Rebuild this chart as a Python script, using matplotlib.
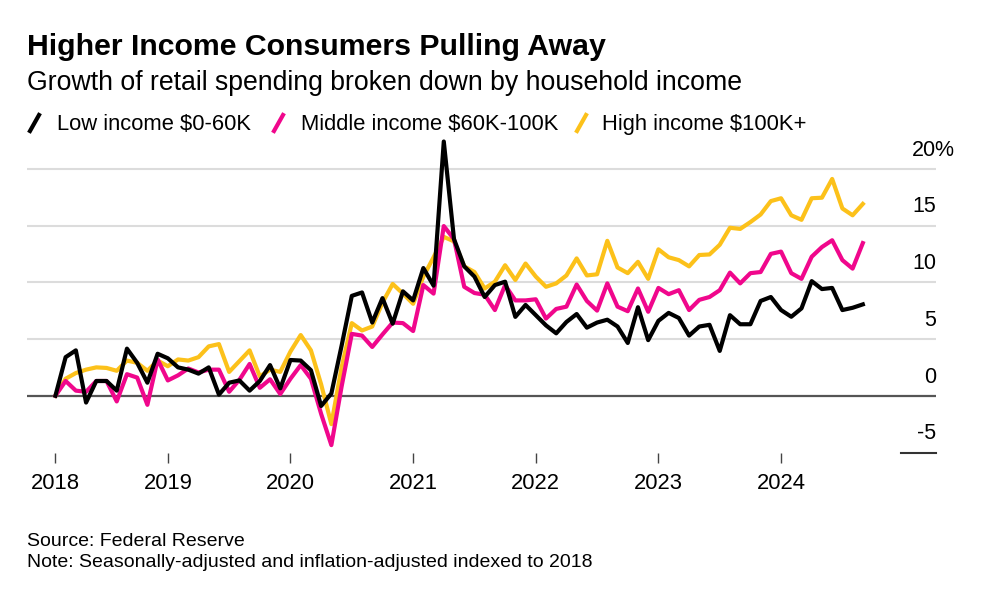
import numpy as np
import matplotlib.pyplot as plt
from matplotlib.lines import Line2D

plt.rcParams['font.family'] = ['Liberation Sans', 'DejaVu Sans']

# months counted from Jan 2018 = 0 ; data runs Feb 2018 .. Sep 2024
months = np.arange(1, 81)

low = [0, 3.4, 4.0, -0.6, 1.3, 1.3, 0.45, 4.15, 2.9, 1.15,
       3.7, 3.3, 2.5, 2.3, 1.95, 2.5, 0.1, 1.15, 1.35, 0.45,
       1.3, 2.7, 0.65, 3.15, 3.1, 2.25, -0.9, 0.2, 4.4, 8.8,
       9.1, 6.45, 8.6, 6.35, 9.2, 8.4, 11.25, 9.7, 22.4, 13.8,
       11.4, 10.5, 8.7, 9.75, 10.05, 6.95, 8.0, 7.1, 6.2, 5.5,
       6.5, 7.2, 6.0, 6.45, 6.7, 6.1, 4.65, 7.8, 4.9, 6.6,
       7.3, 6.85, 5.3, 6.1, 6.25, 3.95, 7.1, 6.3, 6.3, 8.35,
       8.7, 7.55, 6.96, 7.7, 10.1, 9.4, 9.5, 7.55, 7.75, 8.05]

middle = [0, 1.3, 0.45, 0.35, 1.3, 1.3, -0.5, 1.9, 1.6, -0.8,
          3.2, 1.35, 1.8, 2.4, 2.05, 2.3, 2.3, 0.35, 1.4, 2.8,
          0.7, 1.45, 0.15, 1.5, 2.7, 1.5, -1.6, -4.35, 0.8, 5.45,
          5.3, 4.3, 5.4, 6.45, 6.4, 5.7, 9.75, 9.0, 14.95, 13.8,
          9.6, 9.05, 8.9, 7.55, 9.75, 8.4, 8.4, 8.5, 6.8, 7.65,
          7.85, 9.8, 8.35, 7.5, 9.9, 7.85, 7.45, 9.45, 7.4, 9.5,
          8.95, 9.3, 7.55, 8.45, 8.7, 9.3, 10.85, 9.9, 10.8, 10.9,
          12.5, 12.7, 10.8, 10.3, 12.25, 13.1, 13.7, 11.95, 11.2, 13.45]

high = [0, 1.5, 2.0, 2.3, 2.5, 2.45, 2.2, 3.1, 2.9, 2.2,
        3.1, 2.6, 3.2, 3.1, 3.4, 4.35, 4.55, 2.1, 3.05, 4.0,
        1.7, 2.3, 2.1, 3.9, 5.35, 4.0, 1.0, -2.5, 2.5, 6.4,
        5.75, 6.1, 8.2, 9.85, 9.0, 8.1, 10.5, 12.2, 14.0, 13.6,
        11.4, 10.9, 9.45, 10.05, 11.5, 10.2, 11.65, 10.5, 9.6, 9.9,
        10.6, 12.1, 10.6, 10.7, 13.65, 11.3, 10.8, 11.8, 10.3, 12.9,
        12.2, 11.95, 11.4, 12.4, 12.45, 13.3, 14.8, 14.7, 15.3, 15.97,
        17.15, 17.4, 15.9, 15.5, 17.4, 17.45, 19.1, 16.5, 15.9, 16.9]

year_ticks = [1, 12, 24, 36, 48, 60, 72]
year_labels = ['2018', '2019', '2020', '2021', '2022', '2023', '2024']
grid_vals = [5, 10, 15, 20]
y_labels = [-5, 0, 5, 10, 15, 20]

series_names = ['Low income $0-60K', 'Middle income $60K-100K', 'High income $100K+']
colors = ['#000000', '#f0078c', '#fcc11a']

W, H = 982, 594
fig = plt.figure(figsize=(W / 100, H / 100), dpi=100)
ax = fig.add_axes([27 / W, 1 - 452.5 / H, 909 / W, (452.5 - 134.7) / H])
ax.set_xlim(-1.78, 87.16)
ax.set_ylim(-5, 23)
for s in ax.spines.values():
    s.set_visible(False)

for v in grid_vals:
    ax.axhline(v, color='#dcdcdc', lw=1.5, zorder=0)
ax.axhline(0, color='#555555', lw=1.6, zorder=1)
ax.plot([0.9615, 1], [-5, -5], transform=ax.get_yaxis_transform(),
        color='#333333', lw=1.5, clip_on=False)

# lines (yellow under, black on top)
ax.plot(months, high, color=colors[2], lw=3, zorder=3)
ax.plot(months, middle, color=colors[1], lw=3, zorder=4)
ax.plot(months, low, color=colors[0], lw=3, zorder=5)

# right-hand value labels sitting above the gridlines
for v in y_labels:
    ax.annotate(str(v), xy=(1, v), xycoords=('axes fraction', 'data'),
                xytext=(0, 9.5), textcoords='offset points',
                ha='right', va='baseline', fontsize=15.5)
ax.annotate('%', xy=(1, 20), xycoords=('axes fraction', 'data'),
            xytext=(-1.2, 9.5), textcoords='offset points',
            ha='left', va='baseline', fontsize=15.5)

ax.set_yticks([])
ax.set_xticks(year_ticks, year_labels)
ax.tick_params(axis='x', length=7, width=1, color='#444444', pad=8, labelsize=15.8)


def fx(px):
    return px / W


def fy(py):
    return 1 - py / H


fig.text(fx(27), fy(55), 'Higher Income Consumers Pulling Away',
         fontsize=21.8, weight='bold', va='baseline')
fig.text(fx(27), fy(90), 'Growth of retail spending broken down by household income',
         fontsize=19.2, va='baseline')

# legend
icon_x = [30, 274, 577]
text_x = [57, 301, 602]
for name, c, ix, tx in zip(series_names, colors, icon_x, text_x):
    fig.add_artist(Line2D([fx(ix), fx(ix + 9)], [fy(131), fy(115)], color=c, lw=3,
                          transform=fig.transFigure))
    fig.text(fx(tx), fy(130), name, fontsize=15.8, va='baseline')

fig.text(fx(27), fy(546), 'Source: Federal Reserve', fontsize=14, va='baseline')
fig.text(fx(27), fy(567), 'Note: Seasonally-adjusted and inflation-adjusted indexed to 2018',
         fontsize=14, va='baseline')

fig.savefig('out.png', dpi=100)
